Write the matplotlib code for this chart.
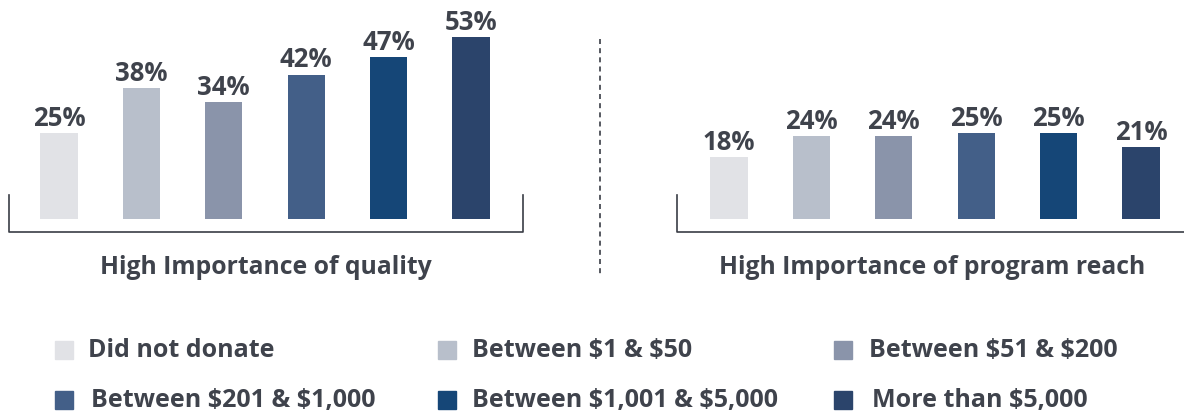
import matplotlib
matplotlib.use('Agg')
import matplotlib.pyplot as plt
from matplotlib.patches import Rectangle
from matplotlib.lines import Line2D

plt.rcParams['font.family'] = ['Open Sans', 'DejaVu Sans']
plt.rcParams['font.weight'] = 'bold'

categories = ['Did not donate', 'Between \\$1 & \\$50', 'Between \\$51 & \\$200',
              'Between \\$201 & \\$1,000', 'Between \\$1,001 & \\$5,000', 'More than \\$5,000']
quality = [25, 38, 34, 42, 47, 53]
reach = [18, 24, 24, 25, 25, 21]
panel_titles = ['High Importance of quality', 'High Importance of program reach']

colours = ['#E1E2E6', '#B8BFCB', '#8A94AA', '#435F88', '#154677', '#2B446B']
text_colour = '#3F434C'

W, H = 1184, 414
fig = plt.figure(figsize=(W / 100, H / 100), dpi=100)

def fx(x):
    return x / W

def fy(y):
    return 1 - y / H

step = 82.4      # px between bar centres
bar_w = 0.45
base = 220       # px of bar bottom

def draw_panel(left, width, first_centre, values, title, title_x, br_left, br_right):
    ax = fig.add_axes([fx(left), fy(base), width / W, base / H])
    x = range(len(values))
    bars = ax.bar(x, values, width=bar_w, color=colours)
    for b, v in zip(bars, values):
        ax.annotate('%d%%' % v, (b.get_x() + b.get_width() / 2, v),
                    xytext=(0, 1.5), textcoords='offset points',
                    ha='center', va='bottom', fontsize=18.5,
                    color=text_colour, fontweight='bold')
    ax.set_xlim(-first_centre / step, (width - first_centre) / step)
    ax.set_ylim(0, base / 3.44)
    ax.axis('off')
    # bracket below bars
    fig.add_artist(Line2D([fx(br_left), fx(br_left), fx(br_right), fx(br_right)],
                          [fy(196), fy(233), fy(233), fy(196)],
                          color='#3A3D45', lw=1.2))
    fig.text(fx(title_x), fy(268), title, ha='center', va='center',
             fontsize=17.8, color=text_colour, fontweight='bold')

draw_panel(0, 600, 59, quality, panel_titles[0], 266, 9, 523)
draw_panel(600, 584, 129, reach, panel_titles[1], 932, 677, 1190)

# dashed separator
fig.add_artist(Line2D([fx(600), fx(600)], [fy(40), fy(276)],
                      color='#3A3D45', lw=1.2, ls=(0, (3, 2.5))))

# legend
sq_x = [55, 438, 834]
txt_x = [[88, 472, 869], [91, 472, 872]]
row_y = [351, 401]
for i, (cat, col) in enumerate(zip(categories, colours)):
    r, c = divmod(i, 3)
    fig.add_artist(Rectangle((fx(sq_x[c]), fy(row_y[r] + 9)), 18 / W, 18 / H,
                             color=col, transform=fig.transFigure))
    fig.text(fx(txt_x[r][c]), fy(row_y[r]), cat, ha='left', va='center',
             fontsize=18, color=text_colour, fontweight='bold')

fig.savefig('out.png', dpi=100)
